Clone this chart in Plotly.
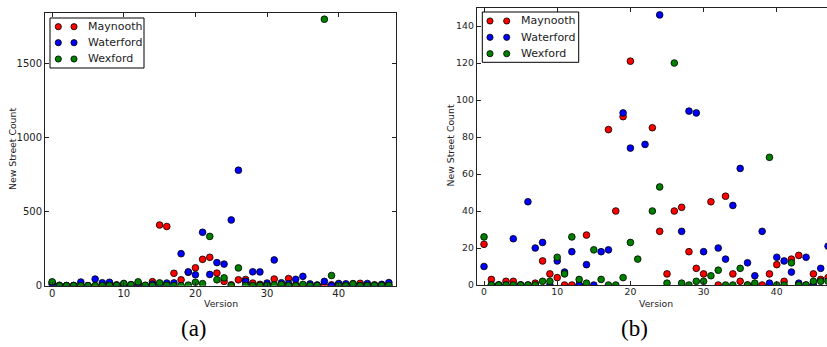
import plotly.graph_objects as go

W, H = 827, 347

versions = list(range(48))
series_names = ["Maynooth", "Waterford", "Wexford"]
series_colors = ["#ff0000", "#0000ff", "#008000"]

maynooth = [22, 3, 0, 2, 2, 0, 0, 1, 13, 6, 4, 0, 0, 0, 27, 410, 400, 84, 40, 91,
            121, 178, 192, 85, 29, 6, 40, 42, 18, 9, 6, 45, 0, 48, 6, 2, 0, 0, 0, 6,
            11, 2, 14, 16, 0, 6, 3, 4]
waterford = [10, 0, 0, 0, 25, 0, 45, 20, 23, 0, 13, 7, 18, 0, 11, 0, 18, 19, 216, 93,
             74, 361, 76, 156, 146, 444, 780, 29, 94, 93, 18, 174, 20, 14, 43, 63, 12, 5, 29, 1,
             15, 13, 7, 1, 15, 0, 9, 21]
wexford = [26, 0, 0, 0, 0, 0, 0, 0, 2, 2, 15, 6, 26, 3, 1, 19, 3, 0, 0, 4,
           23, 14, 333, 40, 53, 1, 120, 1, 0, 2, 2, 5, 8, 0, 0, 9, 0, 1, 1800, 69,
           0, 0, 12, 0, 0, 2, 2, 2]
series_values = [maynooth, waterford, wexford]

x_ticks = [0, 10, 20, 30, 40]
y_ticks_a = [0, 500, 1000, 1500]
y_ticks_b = [0, 20, 40, 60, 80, 100, 120, 140]
x_title = "Version"
y_title = "New Street Count"
panel_labels = ["(a)", "(b)"]


def px(p):
    return p / W


def py(p):
    return 1 - p / H


fig = go.Figure()
for xa, ya in [("x", "y"), ("x2", "y2")]:
    for name, vals, col in zip(series_names, series_values, series_colors):
        fig.add_trace(go.Scatter(
            x=versions, y=vals, mode="markers", name=name, xaxis=xa, yaxis=ya,
            showlegend=False, cliponaxis=True,
            marker=dict(size=6.7, color=col, line=dict(color="black", width=0.8)),
        ))


def axis_style(size, standoff=0):
    return dict(showline=True, linecolor="#222", linewidth=1, ticks="inside",
                ticklen=4, tickcolor="#222", showgrid=False, zeroline=False,
                automargin=False, ticklabelstandoff=standoff,
                tickfont=dict(family="DejaVu Sans", size=size, color="#222"))


fig.update_layout(
    template="none",
    width=W, height=H, margin=dict(l=0, r=0, t=0, b=0, pad=0),
    paper_bgcolor="white", plot_bgcolor="white", showlegend=False,
    font=dict(family="DejaVu Sans"),
    xaxis=dict(domain=[px(45), px(396)], range=[-1, 48], tickvals=x_ticks,
               anchor="y", mirror="ticks", **axis_style(10, -2)),
    yaxis=dict(domain=[py(285.7), py(13)], range=[0, 1842], tickvals=y_ticks_a,
               anchor="x", mirror="ticks", **axis_style(10)),
    xaxis2=dict(domain=[px(476.7), 1.0], range=[-1, 46.86], tickvals=x_ticks,
                anchor="y2", mirror="ticks", **axis_style(9.3, -2)),
    yaxis2=dict(domain=[py(285), py(7.5)], range=[0, 150], tickvals=y_ticks_b,
                anchor="x2", mirror=False, **axis_style(9.3)),
)

annotations = []
shapes = []
label_font = dict(family="DejaVu Sans", size=9.3, color="#222")
# axis titles
for cx in [221, 656]:
    annotations.append(dict(text=x_title, x=px(cx), y=py(303), xref="paper", yref="paper",
                            showarrow=False, xanchor="center", yanchor="middle", font=label_font))
for cx, cy in [(12, 149), (449.5, 146)]:
    annotations.append(dict(text=y_title, x=px(cx), y=py(cy), xref="paper", yref="paper",
                            showarrow=False, textangle=-90, xanchor="center", yanchor="middle",
                            font=label_font))
# panel labels
for lab, cx in zip(panel_labels, [194, 634]):
    annotations.append(dict(text=lab, x=px(cx), y=py(328), xref="paper", yref="paper",
                            showarrow=False, xanchor="center", yanchor="middle",
                            font=dict(family="Liberation Serif", size=23, color="black")))

# manual legends (matplotlib style with two markers per entry)
legends = [
    dict(box=(50, 18, 144, 68), mx=(58.3, 74), tx=86, rows=(26.7, 42.7, 59)),
    dict(box=(482.3, 12, 578.7, 62.3), mx=(490, 506.7), tx=519, rows=(21, 37.3, 53.7)),
]
r = 3.1
for lg in legends:
    x0, y0, x1, y1 = lg["box"]
    shapes.append(dict(type="rect", xref="paper", yref="paper", x0=px(x0), x1=px(x1),
                       y0=py(y1), y1=py(y0), line=dict(color="black", width=1),
                       fillcolor="white", layer="above"))
    for name, col, ry in zip(series_names, series_colors, lg["rows"]):
        for mxx in lg["mx"]:
            shapes.append(dict(type="circle", xref="paper", yref="paper",
                               x0=px(mxx - r), x1=px(mxx + r), y0=py(ry + r), y1=py(ry - r),
                               fillcolor=col, line=dict(color="black", width=0.8), layer="above"))
        annotations.append(dict(text=name, x=px(lg["tx"]), y=py(ry), xref="paper", yref="paper",
                                showarrow=False, xanchor="left", yanchor="middle",
                                font=dict(family="DejaVu Sans", size=11, color="#222")))

fig.update_layout(annotations=annotations, shapes=shapes)
fig.write_html("out.html")
